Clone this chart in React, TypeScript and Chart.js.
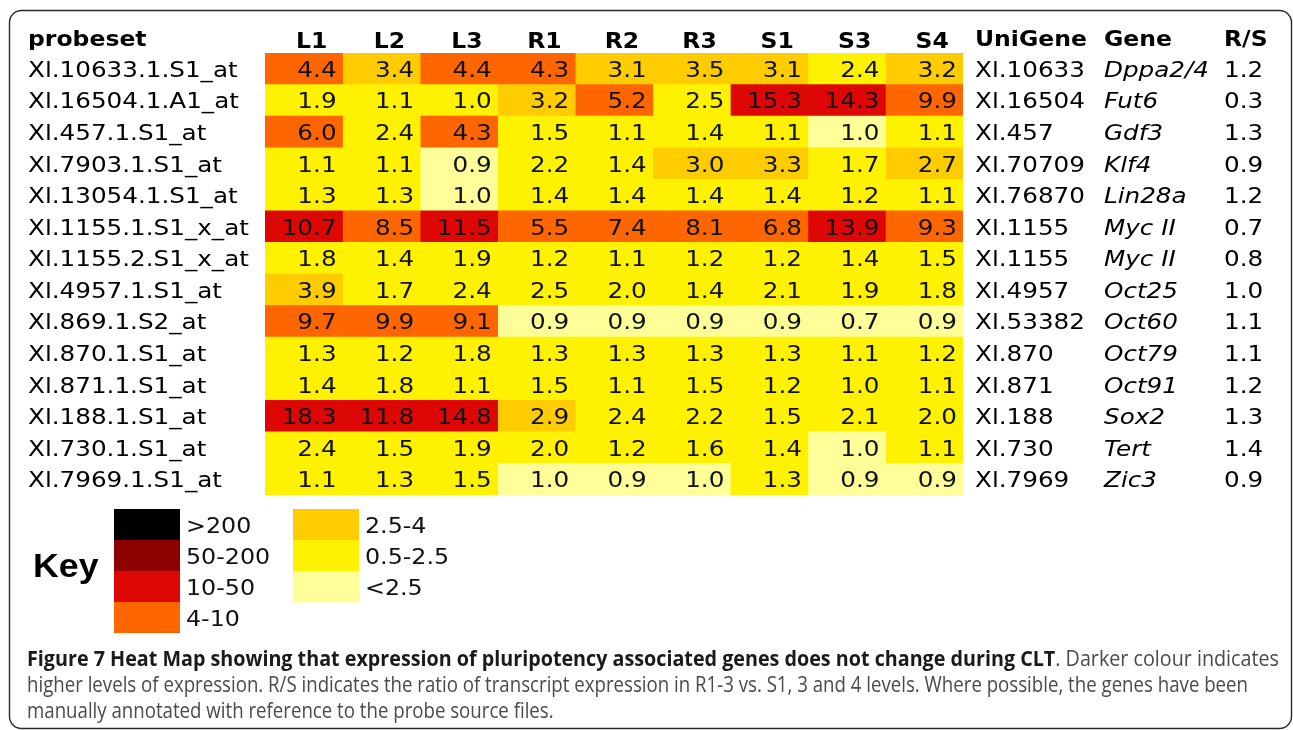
import React, { useEffect, useRef } from "react";
import { Chart, registerables } from "chart.js";

Chart.register(...registerables);

// ---------- data ----------
const columns = ["L1", "L2", "L3", "R1", "R2", "R3", "S1", "S3", "S4"];

const probesets = [
  "Xl.10633.1.S1_at",
  "Xl.16504.1.A1_at",
  "Xl.457.1.S1_at",
  "Xl.7903.1.S1_at",
  "Xl.13054.1.S1_at",
  "Xl.1155.1.S1_x_at",
  "Xl.1155.2.S1_x_at",
  "Xl.4957.1.S1_at",
  "Xl.869.1.S2_at",
  "Xl.870.1.S1_at",
  "Xl.871.1.S1_at",
  "Xl.188.1.S1_at",
  "Xl.730.1.S1_at",
  "Xl.7969.1.S1_at",
];

const unigene = [
  "Xl.10633", "Xl.16504", "Xl.457", "Xl.70709", "Xl.76870", "Xl.1155", "Xl.1155",
  "Xl.4957", "Xl.53382", "Xl.870", "Xl.871", "Xl.188", "Xl.730", "Xl.7969",
];

const genes = [
  "Dppa2/4", "Fut6", "Gdf3", "Klf4", "Lin28a", "Myc II", "Myc II",
  "Oct25", "Oct60", "Oct79", "Oct91", "Sox2", "Tert", "Zic3",
];

const ratioRS = [1.2, 0.3, 1.3, 0.9, 1.2, 0.7, 0.8, 1.0, 1.1, 1.1, 1.2, 1.3, 1.4, 0.9];

// expression values, one array per column
const L1 = [4.4, 1.9, 6.0, 1.1, 1.3, 10.7, 1.8, 3.9, 9.7, 1.3, 1.4, 18.3, 2.4, 1.1];
const L2 = [3.4, 1.1, 2.4, 1.1, 1.3, 8.5, 1.4, 1.7, 9.9, 1.2, 1.8, 11.8, 1.5, 1.3];
const L3 = [4.4, 1.0, 4.3, 0.9, 1.0, 11.5, 1.9, 2.4, 9.1, 1.8, 1.1, 14.8, 1.9, 1.5];
const R1 = [4.3, 3.2, 1.5, 2.2, 1.4, 5.5, 1.2, 2.5, 0.9, 1.3, 1.5, 2.9, 2.0, 1.0];
const R2 = [3.1, 5.2, 1.1, 1.4, 1.4, 7.4, 1.1, 2.0, 0.9, 1.3, 1.1, 2.4, 1.2, 0.9];
const R3 = [3.5, 2.5, 1.4, 3.0, 1.4, 8.1, 1.2, 1.4, 0.9, 1.3, 1.5, 2.2, 1.6, 1.0];
const S1 = [3.1, 15.3, 1.1, 3.3, 1.4, 6.8, 1.2, 2.1, 0.9, 1.3, 1.2, 1.5, 1.4, 1.3];
const S3 = [2.4, 14.3, 1.0, 1.7, 1.2, 13.9, 1.4, 1.9, 0.7, 1.1, 1.0, 2.1, 1.0, 0.9];
const S4 = [3.2, 9.9, 1.1, 2.7, 1.1, 9.3, 1.5, 1.8, 0.9, 1.2, 1.1, 2.0, 1.1, 0.9];

// key class of each cell (index into keyColors), one array per column
const L1Key = [3, 5, 3, 5, 5, 2, 5, 4, 3, 5, 5, 2, 5, 5];
const L2Key = [4, 5, 5, 5, 5, 3, 5, 5, 3, 5, 5, 2, 5, 5];
const L3Key = [3, 5, 3, 6, 6, 2, 5, 5, 3, 5, 5, 2, 5, 5];
const R1Key = [3, 4, 5, 5, 5, 3, 5, 5, 6, 5, 5, 4, 5, 6];
const R2Key = [4, 3, 5, 5, 5, 3, 5, 5, 6, 5, 5, 5, 5, 6];
const R3Key = [4, 5, 5, 4, 5, 3, 5, 5, 6, 5, 5, 5, 5, 6];
const S1Key = [4, 2, 5, 4, 5, 3, 5, 5, 6, 5, 5, 5, 5, 5];
const S3Key = [5, 2, 6, 5, 5, 2, 5, 5, 6, 5, 5, 5, 6, 6];
const S4Key = [4, 3, 5, 4, 5, 3, 5, 5, 6, 5, 5, 5, 5, 6];

const keyLabels = [">200", "50-200", "10-50", "4-10", "2.5-4", "0.5-2.5", "<2.5"];
const keyColors = ["#000000", "#8e0000", "#dd0806", "#ff6600", "#ffcc00", "#fff200", "#ffff99"];

const captionBold =
  "Figure 7 Heat Map showing that expression of pluripotency associated genes does not change during CLT";
const captionLines = [
  ". Darker colour indicates",
  "higher levels of expression. R/S indicates the ratio of transcript expression in R1-3 vs. S1, 3 and 4 levels. Where possible, the genes have been",
  "manually annotated with reference to the probe source files.",
];

const valueCols = [L1, L2, L3, R1, R2, R3, S1, S3, S4];
const keyCols = [L1Key, L2Key, L3Key, R1Key, R2Key, R3Key, S1Key, S3Key, S4Key];

// ---------- drawing helpers ----------
const FONT = "'DejaVu Sans', Verdana, sans-serif";
const SX = 1.12;

function txt(
  ctx: CanvasRenderingContext2D,
  text: string,
  x: number,
  y: number,
  font: string,
  align: "left" | "right" | "center" = "left",
  color = "#000",
  sx = SX
) {
  ctx.save();
  ctx.font = font;
  ctx.fillStyle = color;
  ctx.textBaseline = "alphabetic";
  ctx.textAlign = "left";
  const w = ctx.measureText(text).width * sx;
  const x0 = align === "right" ? x - w : align === "center" ? x - w / 2 : x;
  ctx.translate(x0, y);
  ctx.scale(sx, 1);
  ctx.fillText(text, 0, 0);
  ctx.restore();
}

const tablePlugin = {
  id: "tableText",
  beforeDraw(chart: any) {
    const ctx: CanvasRenderingContext2D = chart.ctx;
    ctx.save();
    ctx.fillStyle = "#fff";
    ctx.fillRect(0, 0, chart.width, chart.height);
    // rounded frame
    ctx.strokeStyle = "#2a2a2a";
    ctx.lineWidth = 1.4;
    ctx.beginPath();
    ctx.roundRect(9.5, 10.5, 1282, 718, 12);
    ctx.stroke();
    ctx.restore();
  },
  afterDraw(chart: any) {
    const ctx: CanvasRenderingContext2D = chart.ctx;
    const xs = chart.scales.x;
    const ys = chart.scales.y;
    const area = chart.chartArea;
    const cellFont = `22px ${FONT}`;
    const boldFont = `bold 21px ${FONT}`;
    const italicFont = `italic 22px ${FONT}`;
    const leftX = 28;
    const uniX = area.right + 12;
    const geneX = area.right + 141;
    const rsX = area.right + 261;

    // headers
    txt(ctx, "probeset", leftX, area.top - 7.5, boldFont);
    columns.forEach((c, j) => {
      txt(ctx, c, xs.getPixelForValue(j + 0.5) + 8, area.top - 5.5, boldFont, "center");
    });
    txt(ctx, "UniGene", uniX, area.top - 7.5, boldFont);
    txt(ctx, "Gene", geneX, area.top - 7.5, boldFont);
    txt(ctx, "R/S", rsX, area.top - 7.5, boldFont);

    // rows
    probesets.forEach((p, i) => {
      const yb = ys.getPixelForValue(i) + 8;
      txt(ctx, p, leftX, yb, cellFont);
      valueCols.forEach((col, j) => {
        txt(ctx, col[i].toFixed(1), xs.getPixelForValue(j + 1) - 6, yb, cellFont, "right", "#111");
      });
      txt(ctx, unigene[i], uniX, yb, cellFont);
      txt(ctx, genes[i], geneX, yb, italicFont);
      txt(ctx, ratioRS[i].toFixed(1), rsX, yb, cellFont);
    });

    // key
    const keyTop = area.bottom + 14;
    const sw = 66;
    const sh = 31;
    txt(ctx, "Key", 33, keyTop + 68, "bold 34px 'Liberation Sans', Arial, sans-serif", "left", "#000", 1.05);
    keyLabels.forEach((lab, k) => {
      const colIdx = k < 4 ? 0 : 1;
      const rowIdx = k < 4 ? k : k - 4;
      const x = colIdx === 0 ? 114 : 293;
      const y = keyTop + rowIdx * sh;
      ctx.fillStyle = keyColors[k];
      ctx.fillRect(x, y, sw, sh + (rowIdx < 3 ? 0.5 : 0));
      txt(ctx, lab, x + sw + 6, y + sh / 2 + 8, cellFont, "left", "#111", 1.08);
    });

    // caption
    const capFont = "21px 'Open Sans', 'Liberation Sans', sans-serif";
    const capBold = "bold 21px 'Open Sans', 'Liberation Sans', sans-serif";
    ctx.save();
    ctx.font = capBold;
    const wb = ctx.measureText(captionBold).width;
    ctx.font = capFont;
    const wr = ctx.measureText(captionLines[0]).width;
    const w2 = ctx.measureText(captionLines[1]).width;
    ctx.restore();
    const s1 = (1279 - 27) / (wb + wr);
    const s2 = (1248 - 27) / w2;
    txt(ctx, captionBold, 27, 666, capBold, "left", "#1a1a1a", s1);
    txt(ctx, captionLines[0], 27 + wb * s1, 666, capFont, "left", "#4a4a4a", s1);
    txt(ctx, captionLines[1], 27, 692, capFont, "left", "#4a4a4a", s2);
    txt(ctx, captionLines[2], 27, 718, capFont, "left", "#4a4a4a", s2);
  },
};

export default function App() {
  const ref = useRef<HTMLCanvasElement | null>(null);

  useEffect(() => {
    if (!ref.current) return;
    const datasets = columns.map((c, j) => ({
      label: c,
      data: probesets.map(() => [j, j + 1]),
      backgroundColor: keyCols[j].map((k) => keyColors[k]),
      borderWidth: 0,
      grouped: false,
      categoryPercentage: 1,
      barPercentage: 1,
    }));
    const chart = new Chart(ref.current, {
      type: "bar",
      data: { labels: probesets, datasets: datasets as any },
      options: {
        indexAxis: "y",
        responsive: false,
        animation: false,
        devicePixelRatio: 1,
        layout: { padding: { left: 265, right: 330, top: 53, bottom: 235 } },
        scales: {
          x: { type: "linear", min: 0, max: columns.length, display: false },
          y: { type: "category", display: false, offset: true },
        },
        plugins: {
          legend: { display: false },
          tooltip: { enabled: false },
        },
      },
      plugins: [tablePlugin],
    });
    return () => chart.destroy();
  }, []);

  return (
    <div style={{ position: "absolute", left: 0, top: 0, width: 1293, height: 730, background: "#fff" }}>
      <canvas ref={ref} width={1293} height={730} style={{ display: "block" }} />
    </div>
  );
}
